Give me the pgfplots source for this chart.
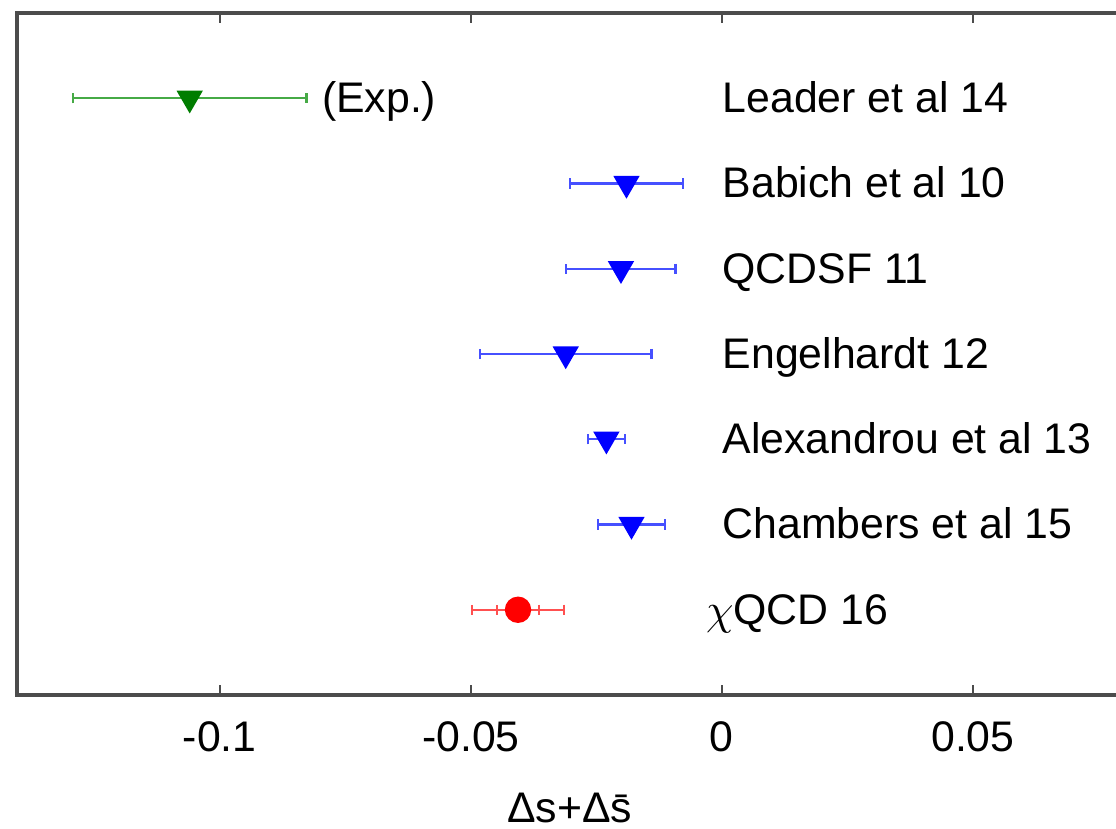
\documentclass[border=0pt]{standalone}
\usepackage{fontspec}
\setmainfont{Liberation Sans}
\usepackage{pgfplots}
\pgfplotsset{compat=1.18}

\newcommand\lf{\fontsize{10.7}{12.8}\selectfont}
\definecolor{expgreen}{RGB}{0,125,0}
\definecolor{errgreen}{RGB}{70,170,70}
\definecolor{errblue}{RGB}{70,80,255}
\definecolor{errred}{RGB}{255,80,80}

\begin{document}
\begin{tikzpicture}
% page = what the reference shows; the right frame line falls off it
\useasboundingbox (-4.25pt,-33.25pt) rectangle (274.75pt,173.75pt);
\begin{axis}[
    at={(0,0)}, anchor=south west,
    scale only axis,
    width=276.75pt, height=170.5pt,
    xmin=-0.1404, xmax=0.0801,
    ymin=0, ymax=8,
    ytick=\empty,
    xtick={-0.1,-0.05,0,0.05},
    xticklabels={-0.1,-0.05,0,0.05},
    tick align=inside,
    major tick length=2.5pt,
    tick style={black!70, line width=0.4pt},
    xticklabel style={font=\lf, yshift=-3pt},
    axis line style={black!70, line width=0.8pt},
    clip=false,
]
% Leader et al 14 (experiment)
\addplot[only marks, mark=triangle*, mark size=3.4pt,
    mark options={rotate=180, fill=expgreen, draw=expgreen},
    error bars/.cd, x dir=both, x explicit, error mark=|,
    error bar style={errgreen, line width=0.6pt},
    error mark options={errgreen, mark size=1.3pt, line width=0.6pt}]
    coordinates {(-0.106,7) +- (0.0233,0)};
% lattice results
\addplot[only marks, mark=triangle*, mark size=3.4pt,
    mark options={rotate=180, fill=blue, draw=blue},
    error bars/.cd, x dir=both, x explicit, error mark=|,
    error bar style={errblue, line width=0.6pt},
    error mark options={errblue, mark size=1.3pt, line width=0.6pt}]
    coordinates {
    (-0.0190,6) +- (0.0112,0)
    (-0.0201,5) +- (0.0109,0)
    (-0.0311,4) +- (0.0171,0)
    (-0.0230,3) +- (0.0037,0)
    (-0.0180,2) +- (0.0067,0)
    };
% chiQCD 16: total error
\addplot[only marks, mark=none,
    error bars/.cd, x dir=both, x explicit, error mark=|,
    error bar style={errred, line width=0.6pt},
    error mark options={errred, mark size=1.3pt, line width=0.6pt}]
    coordinates {(-0.0406,1) +- (0.0092,0)};
% chiQCD 16: statistical error
\addplot[only marks, mark=*, mark size=3.1pt,
    mark options={fill=red, draw=red},
    error bars/.cd, x dir=both, x explicit, error mark=|,
    error bar style={errred, line width=0.6pt},
    error mark options={errred, mark size=1.3pt, line width=0.6pt}]
    coordinates {(-0.0406,1) +- (0.0042,0)};

\node[font=\lf, anchor=base west, inner sep=0pt, yshift=-0.36em] at (axis cs:-0.0798,7) {(Exp.)};
\node[font=\lf, anchor=base west, inner sep=0pt, yshift=-0.36em] at (axis cs:0,7) {Leader et al 14};
\node[font=\lf, anchor=base west, inner sep=0pt, yshift=-0.36em] at (axis cs:0,6) {Babich et al 10};
\node[font=\lf, anchor=base west, inner sep=0pt, yshift=-0.36em] at (axis cs:0,5) {QCDSF 11};
\node[font=\lf, anchor=base west, inner sep=0pt, yshift=-0.36em] at (axis cs:0,4) {Engelhardt 12};
\node[font=\lf, anchor=base west, inner sep=0pt, yshift=-0.36em] at (axis cs:0,3) {Alexandrou et al 13};
\node[font=\lf, anchor=base west, inner sep=0pt, yshift=-0.36em] at (axis cs:0,2) {Chambers et al 15};
\node[font=\lf, anchor=base west, inner sep=0pt, yshift=-0.36em] at (axis cs:-0.0033,1) {$\chi$QCD 16};
\node[font=\lf, anchor=center] at (axis cs:-0.0303,0) [yshift=-28.25pt] {Δs+Δ\=s};
\end{axis}
\end{tikzpicture}
\end{document}
